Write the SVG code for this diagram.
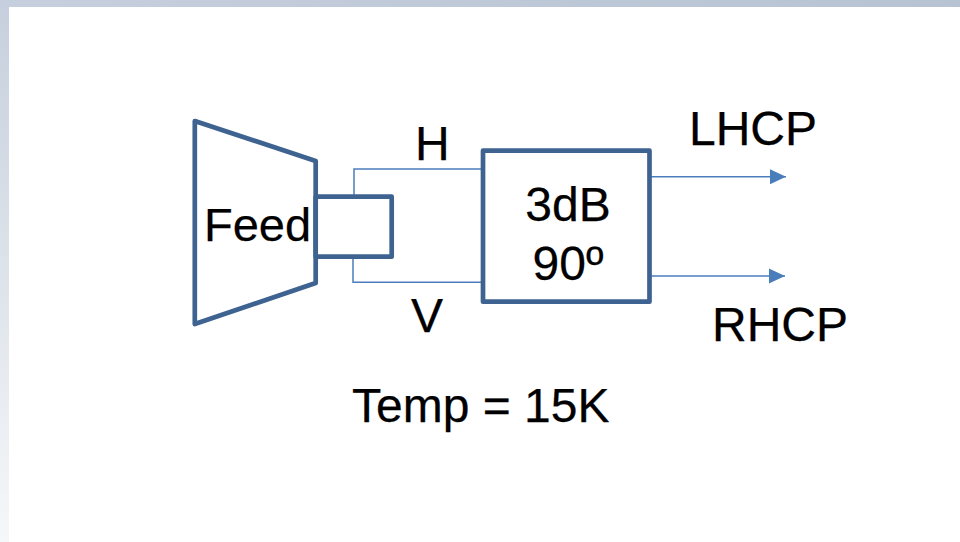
<svg xmlns="http://www.w3.org/2000/svg" width="960" height="542" viewBox="0 0 960 542">
<defs>
<linearGradient id="side" x1="0" y1="0" x2="0" y2="1"><stop offset="0" stop-color="#c6cfdd"/><stop offset="0.5" stop-color="#dde3ea"/><stop offset="1" stop-color="#f6f7f9"/></linearGradient>
<linearGradient id="top" x1="0" y1="0" x2="1" y2="0"><stop offset="0" stop-color="#c6cfdd"/><stop offset="1" stop-color="#b7c3d3"/></linearGradient>
<marker id="arrow" markerUnits="userSpaceOnUse" markerWidth="16" markerHeight="16" refX="16" refY="8" orient="auto"><path d="M0,0.5 L16,8 L0,15.5 Z" fill="#4a7ebb"/></marker>
</defs>
<style>
.thick{fill:#fff;stroke:#3e6391;stroke-width:4.7;stroke-linejoin:round}
.thin{fill:none;stroke:#4a7ebb;stroke-width:1.5}
text{font-family:"Liberation Sans",Arial,sans-serif;font-size:48px;fill:#000;stroke:#000;stroke-width:0.25}
</style>
<rect width="960" height="542" fill="#fff"/>
<rect x="0" y="0" width="9" height="542" fill="url(#side)"/>
<rect x="0" y="0" width="960" height="7" fill="url(#top)"/>
<g id="connectors">
<path class="thin" d="M354,196 V169 H483"/>
<path class="thin" d="M353,257 V282.300 H483"/>
<path class="thin" d="M650,176.700 H786" marker-end="url(#arrow)"/>
<path class="thin" d="M650,276 H785" marker-end="url(#arrow)"/>
</g>
<g id="feed">
<path class="thick" d="M194.800,121 L315.700,161 V283 L194.800,324 Z"/>
<text x="204" y="241" style="font-size:47px">Feed</text>
</g>
<g id="waveguide"><rect class="thick" x="315.700" y="196.700" width="76" height="60"/></g>
<g id="hybrid">
<rect class="thick" x="483" y="150.700" width="166.500" height="151"/>
<text x="568" y="221" text-anchor="middle">3dB</text>
<text x="568" y="280" text-anchor="middle">90º</text>
</g>
<g id="labels">
<text x="415" y="160">H</text>
<text x="411" y="332">V</text>
<text x="689" y="145">LHCP</text>
<text x="712" y="341">RHCP</text>
<text x="352" y="422">Temp = 15K</text>
</g>
</svg>
